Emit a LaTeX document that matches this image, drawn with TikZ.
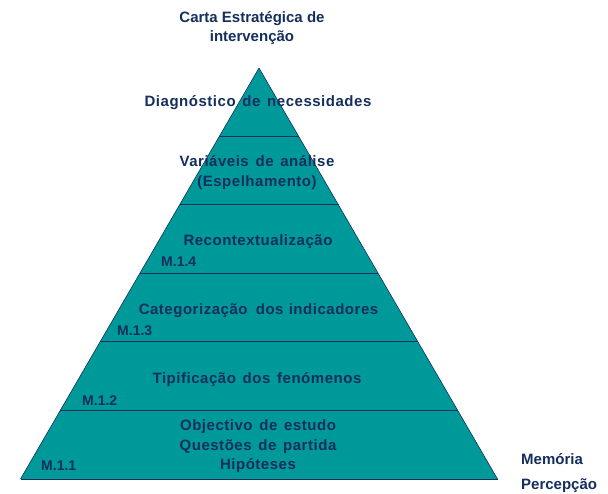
\documentclass[tikz,border=0pt]{standalone}
\usepackage{fontspec}
\setmainfont{Liberation Sans}
\newfontfamily\spaced{Liberation Sans}[LetterSpace=3.5]
\usetikzlibrary{calc}
\definecolor{teal1}{RGB}{0,153,153}
\definecolor{navy1}{RGB}{20,46,94}
\tikzset{
  lbl/.style={text=navy1,font=\spaced\bfseries\fontsize{15}{20}\selectfont,inner sep=0pt,align=center},
  plain/.style={text=navy1,font=\bfseries\fontsize{15}{19}\selectfont,inner sep=0pt,align=center},
  mlbl/.style={text=navy1,font=\bfseries\fontsize{14}{18}\selectfont,inner sep=0pt,anchor=west},
  band/.style={draw=navy1,line width=1pt}
}
\newcommand{\wsp}{\hspace{0.45em}}
\begin{document}
\begin{tikzpicture}[x=1pt,y=-1pt]
\useasboundingbox (0,0) rectangle (608,494);
\coordinate (A) at (259,68);
\coordinate (L) at (20.5,479);
\coordinate (R) at (497.5,479);
\fill[teal1] (A) -- (L) -- (R) -- cycle;
\foreach \k in {1,...,5}{
  \coordinate (l\k) at ($(A)!\k/6!(L)$);
  \coordinate (r\k) at ($(A)!\k/6!(R)$);
  \draw[band] (l\k) -- (r\k);
}
\draw[navy1,line width=0.6pt] (L) -- (A) -- (R);
\draw[band] (L) -- (R);

\node[plain] (title) at (252,28.5) {Carta Estratégica de\\intervenção};
\node[lbl] (t6) at (258,103) {Diagnóstico\wsp de\wsp necessidades};
\node[lbl] (t5) at (257,173) {Variáveis\wsp de\wsp análise\\(Espelhamento)};
\node[lbl] (t4) at (258,241.5) {Recontextualização};
\node[mlbl] (m4) at (161,262) {M.1.4};
\node[lbl] (t3) at (258.5,310.5) {Categorização\hspace{0.55em}dos\hspace{0.35em}indicadores};
\node[mlbl] (m3) at (117,331) {M.1.3};
\node[lbl] (t2) at (257,379.5) {Tipificação\wsp dos\wsp fenómenos};
\node[mlbl] (m2) at (82,401) {M.1.2};
\node[lbl,font=\spaced\bfseries\fontsize{15}{19.5}\selectfont] (t1) at (258,446.5) {Objectivo\wsp de\wsp estudo\\ Questões\wsp de\wsp partida\\Hipóteses};
\node[mlbl] (m1) at (41,466) {M.1.1};
\node[plain,anchor=west] (mem) at (521,459) {Memória};
\node[plain,anchor=west] (per) at (521,486) {Percepção};
\end{tikzpicture}
\end{document}
